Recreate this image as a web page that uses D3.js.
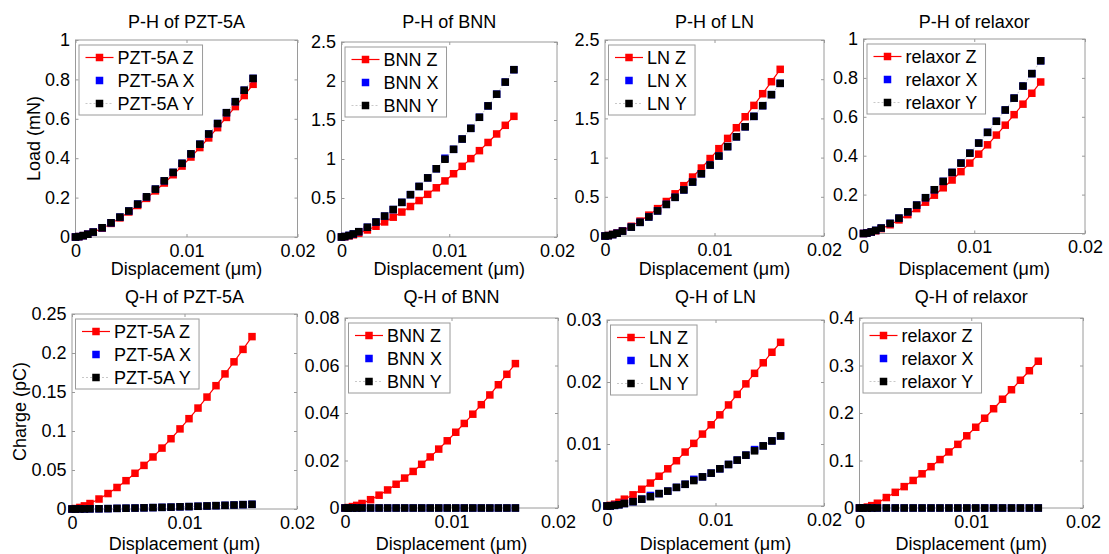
<!DOCTYPE html>
<html lang="en">
<head>
<meta charset="UTF-8">
<title>P-H and Q-H curves</title>
<style>
    html, body { margin: 0; padding: 0; background: #fff; }
    svg text { font-family: "Liberation Sans", Arial, Helvetica, sans-serif; font-size: 18px; fill: #000; }
</style>
</head>
<body>
<script src="https://cdn.jsdelivr.net/npm/d3@7/dist/d3.min.js"></script>
<script>
    // displacement (um), same for every panel
    var disp = [0, 0.0003, 0.0007, 0.0011, 0.0016, 0.0024, 0.0032, 0.0040, 0.0048, 0.0056, 0.0064, 0.0072,
        0.0080, 0.0088, 0.0096, 0.0104, 0.0112, 0.0120, 0.0128, 0.0136, 0.0144, 0.0152, 0.0160];

    // load (mN)
    var phPztZ = [0, 0.002, 0.007, 0.014, 0.024, 0.045, 0.069, 0.097, 0.127, 0.160, 0.196, 0.234, 0.274, 0.316, 0.360, 0.406, 0.454, 0.503, 0.555, 0.607, 0.662, 0.718, 0.775];
    var phPztX = [0, 0.002, 0.007, 0.014, 0.025, 0.047, 0.072, 0.101, 0.132, 0.167, 0.204, 0.243, 0.285, 0.328, 0.374, 0.422, 0.471, 0.523, 0.576, 0.631, 0.687, 0.745, 0.805];
    var phPztY = [0, 0.002, 0.007, 0.014, 0.025, 0.047, 0.072, 0.101, 0.132, 0.167, 0.204, 0.243, 0.285, 0.328, 0.374, 0.422, 0.471, 0.523, 0.576, 0.631, 0.687, 0.745, 0.805];

    var phBnnZ = [0, 0.004, 0.014, 0.028, 0.049, 0.090, 0.138, 0.193, 0.254, 0.320, 0.391, 0.467, 0.547, 0.631, 0.719, 0.811, 0.906, 1.005, 1.107, 1.212, 1.321, 1.432, 1.547];
    var phBnnX = [0, 0.006, 0.020, 0.039, 0.068, 0.125, 0.192, 0.268, 0.352, 0.444, 0.543, 0.648, 0.758, 0.875, 1.010, 1.124, 1.256, 1.393, 1.535, 1.681, 1.831, 1.986, 2.145];
    var phBnnY = [0, 0.006, 0.020, 0.039, 0.068, 0.125, 0.192, 0.268, 0.352, 0.444, 0.543, 0.648, 0.758, 0.875, 0.997, 1.124, 1.256, 1.393, 1.535, 1.681, 1.831, 1.986, 2.145];

    var phLnZ = [0, 0.006, 0.020, 0.038, 0.067, 0.124, 0.190, 0.266, 0.349, 0.440, 0.538, 0.642, 0.752, 0.867, 0.988, 1.114, 1.245, 1.381, 1.521, 1.666, 1.815, 1.968, 2.126];
    var phLnX = [0, 0.005, 0.018, 0.035, 0.062, 0.113, 0.174, 0.243, 0.320, 0.403, 0.493, 0.588, 0.688, 0.794, 0.905, 1.020, 1.140, 1.265, 1.393, 1.526, 1.662, 1.803, 1.947];
    var phLnY = [0, 0.005, 0.018, 0.035, 0.062, 0.113, 0.174, 0.243, 0.320, 0.403, 0.493, 0.588, 0.688, 0.794, 0.905, 1.020, 1.140, 1.265, 1.393, 1.526, 1.662, 1.803, 1.947];

    var phRelZ = [0, 0.002, 0.007, 0.014, 0.025, 0.045, 0.070, 0.097, 0.128, 0.161, 0.197, 0.235, 0.275, 0.318, 0.362, 0.408, 0.456, 0.506, 0.557, 0.611, 0.665, 0.721, 0.779];
    var phRelX = [0, 0.002, 0.008, 0.016, 0.028, 0.052, 0.079, 0.111, 0.146, 0.184, 0.225, 0.268, 0.314, 0.362, 0.413, 0.465, 0.520, 0.577, 0.635, 0.696, 0.758, 0.822, 0.888];
    var phRelY = [0, 0.002, 0.008, 0.016, 0.028, 0.052, 0.079, 0.111, 0.146, 0.184, 0.225, 0.268, 0.314, 0.362, 0.413, 0.465, 0.520, 0.577, 0.635, 0.696, 0.758, 0.822, 0.888];

    // charge (pC)
    var qhPztZ = [0, 0.0006, 0.002, 0.004, 0.007, 0.0128, 0.0198, 0.0276, 0.0363, 0.0458, 0.0559, 0.0667, 0.0781, 0.0901, 0.1027, 0.1158, 0.1294, 0.1435, 0.1581, 0.1732, 0.1887, 0.2046, 0.221];
    var qhPztX = [0, 0, 0.0001, 0.0001, 0.0002, 0.0003, 0.0005, 0.0008, 0.0010, 0.0012, 0.0015, 0.0018, 0.0021, 0.0024, 0.0028, 0.0031, 0.0035, 0.0039, 0.0043, 0.0047, 0.0051, 0.0056, 0.0060];
    var qhPztY = [0, 0, 0.0001, 0.0001, 0.0002, 0.0003, 0.0005, 0.0008, 0.0010, 0.0012, 0.0015, 0.0018, 0.0021, 0.0024, 0.0028, 0.0031, 0.0035, 0.0039, 0.0043, 0.0047, 0.0051, 0.0056, 0.0060];

    var qhBnnZ = [0, 0.0002, 0.0006, 0.0011, 0.0019, 0.0035, 0.0054, 0.0076, 0.0100, 0.0126, 0.0154, 0.0184, 0.0215, 0.0248, 0.0283, 0.0319, 0.0356, 0.0395, 0.0435, 0.0476, 0.0519, 0.0563, 0.0608];
    var qhBnnX = [0, 0, 0, 0, 0, 0, 0, 0, 0, 0, 0, 0, 0, 0, 0, 0, 0, 0, 0, 0, 0, 0, 0];
    var qhBnnY = [0, 0, 0, 0, 0, 0, 0, 0, 0, 0, 0, 0, 0, 0, 0, 0, 0, 0, 0, 0, 0, 0, 0];

    var qhLnZ = [0, 0.0001, 0.0003, 0.0006, 0.0011, 0.0018, 0.0027, 0.0037, 0.0048, 0.0060, 0.0073, 0.0087, 0.0101, 0.0116, 0.0131, 0.0147, 0.0163, 0.0180, 0.0197, 0.0214, 0.0231, 0.0248, 0.0264];
    var qhLnX = [0, 0, 0.0001, 0.0002, 0.0004, 0.0007, 0.0011, 0.0017, 0.0020, 0.0024, 0.0030, 0.0035, 0.0043, 0.0047, 0.0053, 0.0060, 0.0067, 0.0074, 0.0082, 0.0091, 0.0097, 0.0105, 0.0113];
    var qhLnY = [0, 0, 0.0001, 0.0002, 0.0004, 0.0007, 0.0011, 0.0015, 0.0020, 0.0024, 0.0030, 0.0035, 0.0041, 0.0047, 0.0053, 0.0060, 0.0067, 0.0074, 0.0082, 0.0089, 0.0097, 0.0105, 0.0113];

    var qhRelZ = [0, 0.0005, 0.002, 0.005, 0.010, 0.022, 0.033, 0.045, 0.058, 0.072, 0.087, 0.102, 0.118, 0.134, 0.152, 0.170, 0.189, 0.209, 0.229, 0.249, 0.269, 0.289, 0.309];
    var qhRelX = [0, 0, 0, 0, 0, 0, 0, 0, 0, 0, 0, 0, 0, 0, 0, 0, 0, 0, 0, 0, 0, 0, 0];
    var qhRelY = [0, 0, 0, 0, 0, 0, 0, 0, 0, 0, 0, 0, 0, 0, 0, 0, 0, 0, 0, 0, 0, 0, 0];

    // ticks
    var xTicks = [0, 0.01, 0.02];
    var xTickLabels = ["0", "0.01", "0.02"];
    var yTicksUnit = [0, 0.2, 0.4, 0.6, 0.8, 1];
    var yLabelsUnit = ["0", "0.2", "0.4", "0.6", "0.8", "1"];
    var yTicksHalf = [0, 0.5, 1, 1.5, 2, 2.5];
    var yLabelsHalf = ["0", "0.5", "1", "1.5", "2", "2.5"];
    var yTicksPzt = [0, 0.05, 0.1, 0.15, 0.2, 0.25];
    var yLabelsPzt = ["0", "0.05", "0.1", "0.15", "0.2", "0.25"];
    var yTicksBnn = [0, 0.02, 0.04, 0.06, 0.08];
    var yLabelsBnn = ["0", "0.02", "0.04", "0.06", "0.08"];
    var yTicksLn = [0, 0.01, 0.02, 0.03];
    var yLabelsLn = ["0", "0.01", "0.02", "0.03"];
    var yTicksRel = [0, 0.1, 0.2, 0.3, 0.4];
    var yLabelsRel = ["0", "0.1", "0.2", "0.3", "0.4"];

    var panels = [
        { title: "P-H of PZT-5A", mat: "PZT-5A", z: phPztZ, x: phPztX, y: phPztY, ticks: yTicksUnit, labels: yLabelsUnit, ylab: "Load (mN)" },
        { title: "P-H of BNN", mat: "BNN", z: phBnnZ, x: phBnnX, y: phBnnY, ticks: yTicksHalf, labels: yLabelsHalf },
        { title: "P-H of LN", mat: "LN", z: phLnZ, x: phLnX, y: phLnY, ticks: yTicksHalf, labels: yLabelsHalf },
        { title: "P-H of relaxor", mat: "relaxor", z: phRelZ, x: phRelX, y: phRelY, ticks: yTicksUnit, labels: yLabelsUnit },
        { title: "Q-H of PZT-5A", mat: "PZT-5A", z: qhPztZ, x: qhPztX, y: qhPztY, ticks: yTicksPzt, labels: yLabelsPzt, ylab: "Charge (pC)" },
        { title: "Q-H of BNN", mat: "BNN", z: qhBnnZ, x: qhBnnX, y: qhBnnY, ticks: yTicksBnn, labels: yLabelsBnn },
        { title: "Q-H of LN", mat: "LN", z: qhLnZ, x: qhLnX, y: qhLnY, ticks: yTicksLn, labels: yLabelsLn },
        { title: "Q-H of relaxor", mat: "relaxor", z: qhRelZ, x: qhRelX, y: qhRelY, ticks: yTicksRel, labels: yLabelsRel }
    ];

    // axes boxes in page pixels
    var layout = [
        { l: 75.5, r: 297.5, t: 40, b: 237, titleY: 28, xlabY: 275, ylabX: 40 },
        { l: 341.5, r: 557, t: 42, b: 237, titleY: 28, xlabY: 275 },
        { l: 605, r: 824, t: 40, b: 236, titleY: 28, xlabY: 275 },
        { l: 863.5, r: 1085, t: 39, b: 233.5, titleY: 28, xlabY: 275 },
        { l: 72, r: 297, t: 314, b: 509, titleY: 303, xlabY: 550, ylabX: 26 },
        { l: 345, r: 558, t: 318, b: 508, titleY: 303, xlabY: 550 },
        { l: 607, r: 824, t: 320, b: 506, titleY: 303, xlabY: 550 },
        { l: 859.5, r: 1083, t: 318, b: 508, titleY: 303, xlabY: 550 }
    ];

    var boxColor = '#9a9a9a';
    var ms = 7.5; // marker size

    var svg = d3.select('body').append('svg').attr('width', 1109).attr('height', 554);

    panels.forEach(function (p, i) {
        var b = layout[i];
        var xs = d3.scaleLinear().domain([0, 0.02]).range([b.l, b.r]);
        var ys = d3.scaleLinear().domain([p.ticks[0], p.ticks[p.ticks.length - 1]]).range([b.b, b.t]);
        var g = svg.append('g');

        g.append('rect').attr('x', b.l).attr('y', b.t).attr('width', b.r - b.l).attr('height', b.b - b.t)
            .attr('fill', '#fff').attr('stroke', boxColor).attr('stroke-width', 1);

        // axes with inward ticks on all four sides
        var fx = function (d, k) { return xTickLabels[k]; };
        var fy = function (d, k) { return p.labels[k]; };
        var axes = [
            [d3.axisBottom(xs).tickValues(xTicks).tickFormat(fx).tickSize(-3).tickPadding(7), 'translate(0,' + b.b + ')'],
            [d3.axisTop(xs).tickValues(xTicks).tickFormat('').tickSize(-3), 'translate(0,' + b.t + ')'],
            [d3.axisLeft(ys).tickValues(p.ticks).tickFormat(fy).tickSize(-3).tickPadding(5.5), 'translate(' + b.l + ',0)'],
            [d3.axisRight(ys).tickValues(p.ticks).tickFormat('').tickSize(-3), 'translate(' + b.r + ',0)']
        ];
        axes.forEach(function (a) {
            var ag = g.append('g').attr('transform', a[1]).call(a[0]);
            ag.select('.domain').remove();
            ag.selectAll('line').attr('stroke', boxColor);
            ag.selectAll('text').attr('font-size', null).attr('font-family', null).attr('fill', '#000');
        });

        // title and axis labels
        g.append('text').attr('x', (b.l + b.r) / 2).attr('y', b.titleY).attr('text-anchor', 'middle').text(p.title);
        g.append('text').attr('x', (b.l + b.r) / 2).attr('y', b.xlabY).attr('text-anchor', 'middle').text('Displacement (\u03bcm)');
        if (p.ylab) {
            g.append('text').attr('transform', 'translate(' + b.ylabX + ',' + (b.t + b.b) / 2 + ') rotate(-90)')
                .attr('text-anchor', 'middle').text(p.ylab);
        }

        var line = d3.line().x(function (d, k) { return xs(disp[k]); }).y(function (d) { return ys(d); });

        // Z: red line + red squares
        g.append('path').attr('d', line(p.z)).attr('fill', 'none').attr('stroke', '#ff0000').attr('stroke-width', 1.2);
        g.selectAll('.mz').data(p.z).enter().append('rect')
            .attr('x', function (d, k) { return xs(disp[k]) - ms / 2; }).attr('y', function (d) { return ys(d) - ms / 2; })
            .attr('width', ms).attr('height', ms).attr('fill', '#ff0000');
        // X: blue squares only
        g.selectAll('.mx').data(p.x).enter().append('rect')
            .attr('x', function (d, k) { return xs(disp[k]) - ms / 2; }).attr('y', function (d) { return ys(d) - ms / 2; })
            .attr('width', ms).attr('height', ms).attr('fill', '#0000ff');
        // Y: light dashed line + black squares
        g.append('path').attr('d', line(p.y)).attr('fill', 'none').attr('stroke', '#c8c8c8').attr('stroke-width', 1).attr('stroke-dasharray', '2,2');
        g.selectAll('.my').data(p.y).enter().append('rect')
            .attr('x', function (d, k) { return xs(disp[k]) - ms / 2; }).attr('y', function (d) { return ys(d) - ms / 2; })
            .attr('width', ms).attr('height', ms).attr('fill', '#000');

        // legend
        var lg = g.append('g').attr('transform', 'translate(' + (b.l + 3.5) + ',' + (b.t + 5) + ')');
        var box = lg.append('rect').attr('fill', '#fff').attr('stroke', boxColor);
        var rows = [
            { name: p.mat + ' Z', color: '#ff0000', line: '#ff0000', dash: null },
            { name: p.mat + ' X', color: '#0000ff', line: null, dash: null },
            { name: p.mat + ' Y', color: '#000', line: '#c8c8c8', dash: '2,2' }
        ];
        var maxW = 0;
        rows.forEach(function (r, k) {
            var cy = 12.5 + k * 23;
            if (r.line) {
                lg.append('line').attr('x1', 6.5).attr('x2', 34.5).attr('y1', cy).attr('y2', cy)
                    .attr('stroke', r.line).attr('stroke-width', r.dash ? 1 : 1.2).attr('stroke-dasharray', r.dash);
            }
            lg.append('rect').attr('x', 20.5 - ms / 2).attr('y', cy - ms / 2).attr('width', ms).attr('height', ms).attr('fill', r.color);
            var t = lg.append('text').attr('x', 38.5).attr('y', cy + 6.5).text(r.name);
            maxW = Math.max(maxW, t.node().getComputedTextLength());
        });
        box.attr('x', 0).attr('y', 0).attr('width', 38.5 + maxW + 8).attr('height', 70);
    });
</script>
</body>
</html>
